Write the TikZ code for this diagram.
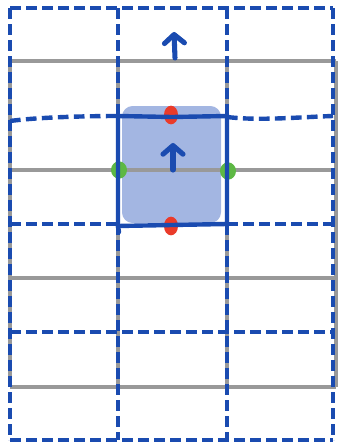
\documentclass[tikz,border=0pt]{standalone}
\usetikzlibrary{arrows.meta,shapes.geometric}
\definecolor{gridgray}{HTML}{999999}
\definecolor{penblue}{HTML}{1A4BB0}
\definecolor{fillblue}{HTML}{A3B6E2}
\definecolor{dotred}{HTML}{EA3B2A}
\definecolor{dotgreen}{HTML}{5DB844}
\begin{document}
\begin{tikzpicture}[x=0.75pt, y=-0.75pt,
  gridline/.style={gridgray, line width=3pt},
  dashline/.style={penblue, line width=3.3pt, dash pattern=on 8pt off 4pt},
  cellline/.style={penblue, line width=3.3pt, line cap=round},
  vel/.style={penblue, line width=3.8pt, line cap=round, -{Straight Barb[round, length=6.5pt, width=15pt]}},
  udot/.style={ellipse, fill=dotred, inner sep=0pt, minimum width=10.5pt, minimum height=14pt},
  pdot/.style={ellipse, fill=dotgreen, inner sep=0pt, minimum width=12pt, minimum height=13pt}]
\useasboundingbox (0,0) rectangle (339,447);
% highlighted cell
\fill[fillblue, rounded corners=8pt] (122,106) rectangle (221,223);
% gray grid
\foreach \y in {61,170,278,387}
  \draw[gridline] (10,\y) -- (336,\y);
\foreach \x in {10,118,227,336}
  \draw[gridline] (\x,61) -- (\x,387);
% samples on the cell faces
\node[udot] (utop) at (171,115) {};
\node[udot] (ubot) at (171,226) {};
\node[pdot] (pleft) at (119,170) {};
\node[pdot] (pright) at (228,171) {};
% dashed staggered grid
\foreach \y in {8,332,440}
  \draw[dashline] (10,\y) -- (333,\y);
\draw[dashline] (10,8) -- (10,440);
\draw[dashline] (333,8) -- (333,440);
\foreach \x in {118,227} {
  \draw[dashline] (\x,8) -- (\x,116);
  \draw[dashline] (\x,224) -- (\x,440);
}
\draw[dashline] (10,121) .. controls (40,117) and (90,116) .. (118,116);
\draw[dashline] (227,117) .. controls (260,121) and (300,117) .. (333,116);
\draw[dashline] (10,224) -- (118,224);
\draw[dashline] (227,224) -- (333,224);
% solid cell outline
\draw[cellline] (118,116) -- (172,117) -- (227,116) -- (227,224) -- (172,225) -- (118,226) -- cycle;
\draw[cellline] (118,226) -- (119,232);
% velocities
\coordinate (vtopS) at (175,58);
\coordinate (vtopE) at (174,32);
\coordinate (vmidS) at (173,170);
\coordinate (vmidE) at (173,143);
\draw[vel] (vtopS) -- (vtopE);
\draw[vel] (vmidS) -- (vmidE);
\end{tikzpicture}
\end{document}
